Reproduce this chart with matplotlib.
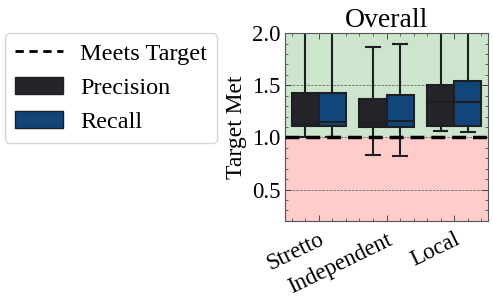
import matplotlib
matplotlib.use('Agg')
import matplotlib.pyplot as plt
from matplotlib.patches import Patch
from matplotlib.lines import Line2D
from matplotlib.ticker import MultipleLocator

plt.rcParams['font.family'] = ['Liberation Serif', 'DejaVu Serif']
plt.rcParams['font.size'] = 16

methods = ['Stretto', 'Independent', 'Local']
series = ['Precision', 'Recall']
colors = {'Precision': '#23252b', 'Recall': '#12467b'}

# box stats: (whislo, q1, med, q3, whishi)
precision = [(1.00, 1.11, 1.13, 1.43, 2.30),
             (0.835, 1.10, 1.14, 1.37, 1.87),
             (1.06, 1.11, 1.34, 1.50, 2.30)]
recall = [(1.00, 1.11, 1.15, 1.43, 2.30),
          (0.82, 1.10, 1.155, 1.405, 1.90),
          (1.055, 1.11, 1.34, 1.54, 2.30)]
target = 1.0

def to_stats(vals):
    lo, q1, med, q3, hi = vals
    return dict(whislo=lo, q1=q1, med=med, q3=q3, whishi=hi, fliers=[])

fig = plt.figure(figsize=(4.93, 3.01), dpi=100)
ax = fig.add_axes([0.578, 0.266, 0.412, 0.624])

ax.axhspan(target, 2.0, color='g', alpha=0.2, lw=0, zorder=0)
ax.axhspan(0.2, target, color='r', alpha=0.2, lw=0, zorder=0)

edge = '#1e1f22'
for k, (name, data) in enumerate(zip(series, [precision, recall])):
    pos = [i - 0.2 + 0.4 * k for i in range(len(methods))]
    ax.bxp([to_stats(v) for v in data], positions=pos, widths=0.4,
           patch_artist=True, showfliers=False, manage_ticks=False,
           boxprops=dict(facecolor=colors[name], edgecolor=edge, lw=1.5),
           medianprops=dict(color=edge, lw=1.5),
           whiskerprops=dict(color=edge, lw=1.5),
           capprops=dict(color=edge, lw=1.5))

ax.axhline(target, color='black', ls='--', lw=2.5, dashes=(4, 2), zorder=5)

ax.set_xlim(-0.5, 2.5)
ax.set_ylim(0.2, 2.0)
ax.set_xticks(range(len(methods)))
ax.set_xticklabels(methods, rotation=26, ha='right', rotation_mode='anchor')
ax.xaxis.set_minor_locator(MultipleLocator(0.2))
ax.yaxis.set_major_locator(MultipleLocator(0.5))
ax.yaxis.set_minor_locator(MultipleLocator(0.1))
ax.tick_params(which='both', direction='in', top=True, right=True, color='#333333',
               labelsize=16.5)
ax.tick_params(which='major', length=4, width=0.6)
ax.tick_params(which='minor', length=2, width=0.5)
ax.tick_params(axis='x', pad=6)
ax.tick_params(axis='y', pad=3)
for s in ax.spines.values():
    s.set_color('#555555')
    s.set_linewidth(0.8)
ax.yaxis.grid(True, ls='--', lw=0.5, color='#555555')
ax.set_axisbelow(True)

ax.set_ylabel('Target Met', fontsize=17, labelpad=4)
ax.set_title('Overall', fontsize=20, pad=2)

handles = [Line2D([], [], color='black', ls='--', lw=2.0, dashes=(3, 2)),
           Patch(facecolor=colors['Precision'], edgecolor=edge),
           Patch(facecolor=colors['Recall'], edgecolor=edge)]
fig.legend(handles, ['Meets Target'] + series, loc='upper left',
           bbox_to_anchor=(0.01, 0.89), borderaxespad=0, fontsize=17.5,
           frameon=True, fancybox=True, edgecolor='#cccccc', handlelength=2.0,
           borderpad=0.4, labelspacing=0.5, handletextpad=0.7)

fig.savefig('out.png', dpi=100)
